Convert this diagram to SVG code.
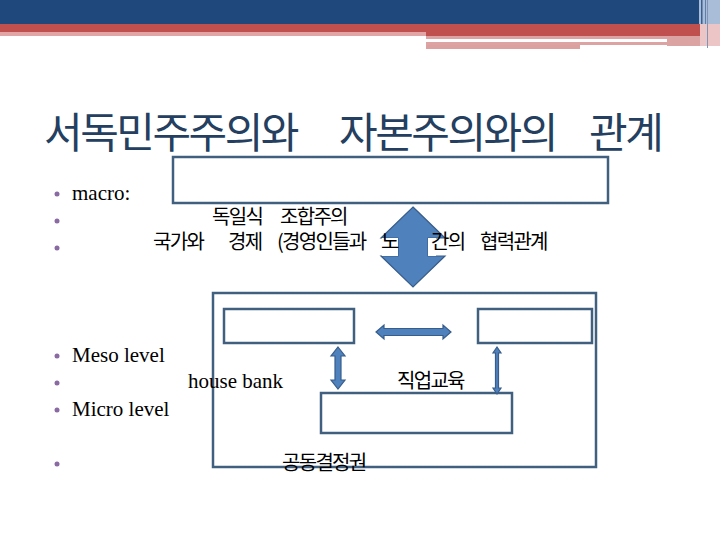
<svg xmlns="http://www.w3.org/2000/svg" width="720" height="540" viewBox="0 0 720 540">
<style>
.box{fill:#fff;stroke:#41607F;stroke-width:2.5}
.frame{fill:none;stroke:#41607F;stroke-width:2.5}
.arr{fill:#4F81BD;stroke:#385D8A;stroke-width:1.2}
.ser{font-family:"Liberation Serif","DejaVu Serif",serif;font-size:21px;fill:#000}
.ko{font-family:"Noto Sans CJK KR","Noto Sans",sans-serif;font-size:20px;letter-spacing:-1.7px;fill:#000}
.ttl{font-family:"Noto Sans CJK KR","Noto Sans",sans-serif;font-size:42px;letter-spacing:-2.5px;fill:#243F60}
.bul{fill:#8A6AA2}
</style>
<rect width="720" height="540" fill="#fff"/>
<g id="header">
<rect x="0" y="0" width="699" height="24" fill="#1F497D"/>
<rect x="699" y="0" width="21" height="24" fill="#A9BDD8"/>
<rect x="701" y="0" width="1.5" height="24" fill="#3A5E90"/>
<rect x="705" y="0" width="1" height="24" fill="#5F7EA8"/>
<rect x="0" y="24" width="426" height="8" fill="#C0504D"/>
<rect x="0" y="32" width="426" height="4" fill="#E0A5A4"/>
<rect x="426" y="24" width="274" height="12" fill="#C0504D"/>
<rect x="426" y="36" width="241" height="3" fill="#DDA3A3"/>
<rect x="426" y="42" width="241" height="3" fill="#DDA3A3"/>
<rect x="426" y="45" width="154" height="4" fill="#DBA0A0"/>
<rect x="667" y="36" width="43" height="10" fill="#DCA3A3"/>
<rect x="700" y="24" width="20" height="22" fill="#ECC6C6"/>
<rect x="707" y="0" width="1" height="48" fill="#8095B5"/>
</g>
<text id="title" class="ttl" y="148"><tspan x="44">서독민주주의와</tspan><tspan x="339">자본주의와의</tspan><tspan x="589">관계</tspan></text>
<g id="bullets">
<circle class="bul" cx="57" cy="194" r="2.5"/>
<circle class="bul" cx="57" cy="221" r="2.5"/>
<circle class="bul" cx="57" cy="248" r="2.5"/>
<circle class="bul" cx="57" cy="356" r="2.5"/>
<circle class="bul" cx="57" cy="383" r="2.5"/>
<circle class="bul" cx="57" cy="410" r="2.5"/>
<circle class="bul" cx="57" cy="464" r="2.5"/>
<text class="ser" x="72" y="200">macro:</text>
<text class="ser" x="72" y="362">Meso level</text>
<text class="ser" x="72" y="416">Micro level</text>
</g>
<g id="macro-box"><rect class="box" x="173" y="157" width="435" height="46"/></g>
<g id="meso-frame"><rect class="frame" x="213" y="293" width="383" height="174"/></g>
<g id="left-box"><rect class="box" x="224" y="309" width="130" height="34"/></g>
<g id="right-box"><rect class="box" x="478" y="309" width="114" height="34"/></g>
<g id="bottom-box"><rect class="box" x="321" y="393" width="191" height="40"/></g>
<g id="connectors">
<polygon class="arr" points="413,207 445,238 428,238 428,256 445,256 413,287 381,256 398,256 398,238 381,238"/>
<polygon class="arr" points="376,332 384,325 384,328.5 443,328.5 443,325 451,332 443,339 443,335.5 384,335.5 384,339"/>
<polygon class="arr" points="338,347 345,356 341,356 341,380 345,380 338,389 331,380 335,380 335,356 331,356"/>
<polygon class="arr" points="497,347 501,353 498.5,353 498.5,388 501,388 497,394 493,388 495.5,388 495.5,353 493,353"/>
</g>
<g id="labels">
<text class="ko" y="224"><tspan x="212">독일식</tspan><tspan x="280">조합주의</tspan></text>
<text class="ko" y="249"><tspan x="153">국가와</tspan><tspan x="228">경제</tspan><tspan x="277">(경영인들과</tspan></text>
<rect x="382" y="238" width="16" height="18" fill="#fff"/>
<text class="ko" x="381" y="249">노</text>
<rect x="428" y="238" width="8" height="18" fill="#fff"/>
<text class="ko" y="249"><tspan x="431">간의</tspan><tspan x="480">협력관계</tspan></text>
<text class="ser" x="188" y="388">house bank</text>
<text class="ko" x="397" y="388">직업교육</text>
<text class="ko" x="282" y="470">공동결정권</text>
</g>
</svg>
